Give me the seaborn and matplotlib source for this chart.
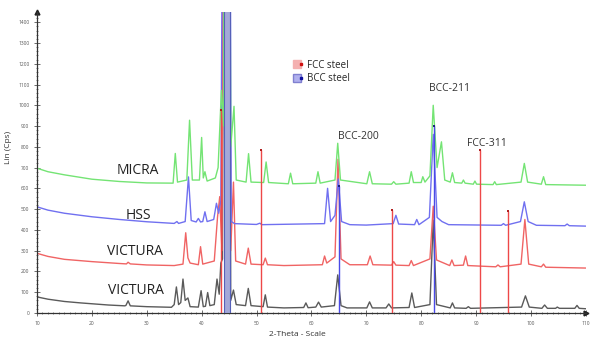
import matplotlib
matplotlib.use("Agg")
import matplotlib.pyplot as plt
import seaborn as sns
import pandas as pd
from matplotlib.lines import Line2D
from matplotlib.legend_handler import HandlerTuple
from matplotlib.ticker import MultipleLocator

# ---- spectra (2-theta, counts) ----
victura_low_theta = [10, 12, 15, 18, 20, 23, 26, 26.2, 26.6, 27.0, 30, 34.5, 35.0, 35.4, 35.8, 36.2, 36.6, 37.0,
                     37.5, 37.9, 39.4, 39.9, 40.3, 40.7, 41.1, 41.5, 42.3, 42.8, 43.2, 43.5, 43.8, 44.2, 44.9, 45.3,
                     45.8, 46.3, 48.0, 48.5, 49.0, 51.2, 51.6, 52.0, 55, 58.6, 59.0, 59.4, 60.8, 61.3, 61.8, 64.2,
                     64.8, 65.4, 66.5, 70.1, 70.6, 71.1, 73.6, 74.1, 74.6, 77.8, 78.3, 78.8, 81.6, 82.2, 82.8, 85.3,
                     85.7, 86.1, 88.2, 88.6, 89.0, 98.3, 99.0, 99.7, 102.0, 102.5, 103.0, 104.5, 104.8, 105.2, 108.0,
                     108.4, 108.8, 110]
victura_low_cps = [77, 66, 55, 48, 44, 38, 34, 36, 58, 34, 30, 27, 40, 125, 40, 50, 163, 60,
                   72, 30, 28, 107, 30, 32, 98, 35, 40, 163, 90, 240, 260, 4000, 4000, 60,
                   110, 40, 35, 118, 35, 30, 87, 28, 24, 26, 48, 25, 28, 52, 28, 35,
                   183, 35, 24, 24, 53, 24, 24, 43, 24, 26, 96, 26, 40, 447, 40, 24,
                   48, 24, 22, 30, 22, 28, 82, 28, 22, 38, 22, 22, 28, 22, 22,
                   36, 22, 20]

victura_high_theta = [10, 12, 15, 20, 25, 26.3, 26.6, 27, 30, 35, 36.6, 37.1, 37.5, 37.9, 39.4, 39.8, 40.2, 42.3,
                      42.9, 43.3, 43.7, 44.2, 44.9, 45.3, 45.8, 46.2, 48.0, 48.5, 49.0, 51.2, 51.6, 52.0, 55, 62.0,
                      62.4, 62.8, 64.3, 64.85, 65.4, 67, 70.2, 70.7, 71.2, 74.6, 75.0, 75.4, 77.8, 78.2, 78.6, 81.6,
                      82.2, 82.8, 85.2, 85.6, 86.0, 87.7, 88.1, 88.5, 93.6, 94.0, 94.4, 98.2, 98.9, 99.6, 101.9,
                      102.3, 102.7, 110]
victura_high_cps = [287, 272, 258, 247, 238, 236, 244, 236, 231, 228, 235, 386, 265, 240, 232, 319, 235, 250,
                    463, 560, 300, 4000, 4000, 300, 630, 250, 235, 312, 235, 232, 264, 232, 228, 232,
                    274, 240, 270, 740, 260, 232, 232, 274, 232, 230, 247, 230, 228, 252, 228, 260,
                    514, 255, 228, 255, 228, 230, 274, 228, 222, 231, 222, 235, 450, 235, 222,
                    235, 220, 216]

hss_theta = [10, 12, 15, 20, 25, 30, 35, 35.5, 35.8, 37.0, 37.6, 38.1, 39.0, 39.4, 39.8, 40.2, 40.6, 41.0, 42.2,
             42.7, 43.1, 43.5, 44.2, 44.9, 45.4, 46, 50, 50.6, 51, 62.4, 62.95, 63.5, 64.3, 64.9, 65.5, 67, 70,
             74.9, 75.4, 75.9, 78.8, 79.2, 79.6, 81.5, 82.2, 82.9, 83.8, 85, 94.6, 95, 95.4, 98.1, 98.8, 99.5,
             101, 106.2, 106.6, 107, 110]
hss_cps = [511, 495, 480, 463, 450, 439, 431, 440, 431, 440, 655, 445, 438, 455, 438, 440, 487, 440, 450,
           528, 480, 540, 4000, 4000, 440, 430, 426, 432, 425, 430, 600, 440, 470, 645, 440, 425, 423,
           430, 470, 428, 425, 450, 425, 460, 860, 460, 440, 425, 422, 430, 422, 440, 535, 440,
           422, 420, 428, 420, 418]

micra_theta = [10, 12, 15, 20, 25, 30, 34.8, 35.2, 35.6, 37.3, 37.8, 38.3, 39.6, 40.0, 40.3, 40.6, 41.0, 42.5,
               43.0, 43.6, 44.0, 44.2, 44.9, 45.3, 45.9, 46.3, 48.1, 48.55, 49.0, 51.3, 51.75, 52.2, 55.8, 56.2,
               56.6, 60.8, 61.2, 61.6, 64.3, 64.8, 65.3, 70.1, 70.6, 71.1, 74.6, 75.0, 75.4, 77.8, 78.2, 78.6,
               80.0, 80.3, 80.7, 81.6, 82.2, 82.9, 83.7, 84.3, 85.3, 85.7, 86.1, 87.4, 87.7, 88.0, 89.5, 89.8,
               90.1, 93.1, 93.4, 93.7, 98.2, 98.8, 99.4, 101.9, 102.3, 102.7, 110]
micra_cps = [697, 680, 665, 644, 633, 626, 625, 768, 630, 640, 928, 640, 640, 845, 650, 680, 635, 650,
             700, 1072, 900, 4000, 4000, 800, 995, 640, 630, 767, 630, 628, 727, 628, 622, 673,
             622, 625, 680, 625, 640, 817, 640, 622, 680, 622, 620, 632, 620, 625, 680, 628,
             628, 656, 630, 660, 1000, 700, 824, 640, 630, 675, 628, 625, 640, 625, 620, 635,
             620, 618, 632, 618, 630, 720, 630, 620, 656, 618, 615]

# reference sticks
fcc_pos = [43.6, 50.8, 74.7, 90.7, 95.9]
fcc_top = [975, 784, 495, 784, 492]
bcc_pos = [44.65, 65.0, 82.3]
bcc_top = [1480, 610, 900]

sample_names = ["VICTURA", "VICTURA", "HSS", "MICRA"]
sample_colors = ["#5a5a5a", "#f06464", "#7070f0", "#74e474"]
label_pos = [(28.0, 107), (27.8, 298), (28.5, 468), (28.4, 688)]

peak_labels = ["BCC-200", "BCC-211", "FCC-311"]
peak_label_pos = [(68.6, 849), (85.1, 1079), (92.0, 817)]

frames = []
for name, theta, cps in [("VICTURA low", victura_low_theta, victura_low_cps),
                         ("VICTURA high", victura_high_theta, victura_high_cps),
                         ("HSS", hss_theta, hss_cps),
                         ("MICRA", micra_theta, micra_cps)]:
    frames.append(pd.DataFrame({"theta": theta, "cps": cps, "sample": name}))
df = pd.concat(frames, ignore_index=True)

sns.set_theme(style="white")
plt.rcParams["font.family"] = ["Open Sans", "DejaVu Sans"]

fig = plt.figure(figsize=(5.92, 3.39), dpi=100)
ax = fig.add_axes([0.0625, 0.077, 0.927, 0.888])

sns.lineplot(data=df, x="theta", y="cps", hue="sample", palette=sample_colors,
             sort=False, estimator=None, linewidth=1.0, legend=False, ax=ax)

# BCC wide column at the main peak + sticks
ax.bar(bcc_pos[0], bcc_top[0], width=1.0, color="#a4a8d8", edgecolor="#5560b8", linewidth=0.8, zorder=3)
ax.vlines(fcc_pos, 0, fcc_top, color="#ee4848", linewidth=1.0, zorder=4)
ax.vlines(bcc_pos[1:], 0, bcc_top[1:], color="#4a4ae6", linewidth=1.0, zorder=4)
ax.scatter(fcc_pos, fcc_top, marker="s", s=2.5, color="#b02020", linewidths=0, zorder=5)
ax.scatter(bcc_pos[1:], bcc_top[1:], marker="s", s=2.5, color="#202080", linewidths=0, zorder=5)

for name, (x, y) in zip(sample_names, label_pos):
    ax.text(x, y, name, ha="center", va="center", fontsize=10, color="#222222")
for name, (x, y) in zip(peak_labels, peak_label_pos):
    ax.text(x, y, name, ha="center", va="center", fontsize=7.5, color="#333333")

fcc_handle = (Line2D([], [], marker="s", ls="", markersize=6, color="#f4b0b0"),
              Line2D([], [], marker="s", ls="", markersize=2, color="#d01010"))
bcc_handle = (Line2D([], [], marker="s", ls="", markersize=6, color="#b0b0ee", markeredgecolor="#8080d0"),
              Line2D([], [], marker="s", ls="", markersize=2, color="#1010a0"))
ax.legend([fcc_handle, bcc_handle], ["FCC steel", "BCC steel"],
          handler_map={tuple: HandlerTuple(ndivide=None, pad=0)},
          loc="upper left", bbox_to_anchor=(0.455, 0.87), frameon=False,
          fontsize=7, handlelength=0.8, handletextpad=0.4, labelspacing=0.25)

ax.set_xlim(10, 110)
ax.set_ylim(0, 1450)
ax.xaxis.set_major_locator(MultipleLocator(10))
ax.xaxis.set_minor_locator(MultipleLocator(1))
ax.yaxis.set_major_locator(MultipleLocator(100))
ax.yaxis.set_minor_locator(MultipleLocator(20))
ax.tick_params(which="both", direction="inout", labelsize=3.5, labelcolor="#555555",
               color="#555555", bottom=True, left=True)
ax.tick_params(which="major", length=4, width=0.6)
ax.tick_params(which="minor", length=2, width=0.5)
ax.set_yticks(range(0, 1401, 100))

sns.despine(ax=ax)
for side in ["left", "bottom"]:
    ax.spines[side].set_color("#333333")
    ax.spines[side].set_linewidth(0.9)
ax.plot(0, 1, marker="^", color="#222222", markersize=3.5, transform=ax.transAxes, clip_on=False)
ax.plot(1, 0, marker=">", color="#222222", markersize=3.5, transform=ax.transAxes, clip_on=False)

ax.set_xlabel("2-Theta - Scale", fontsize=6, color="#333333")
ax.set_ylabel("Lin (Cps)", fontsize=6, color="#333333")
ax.xaxis.set_label_coords(0.475, -0.06)
ax.yaxis.set_label_coords(-0.045, 0.55)

fig.savefig("out.png", dpi=100)
